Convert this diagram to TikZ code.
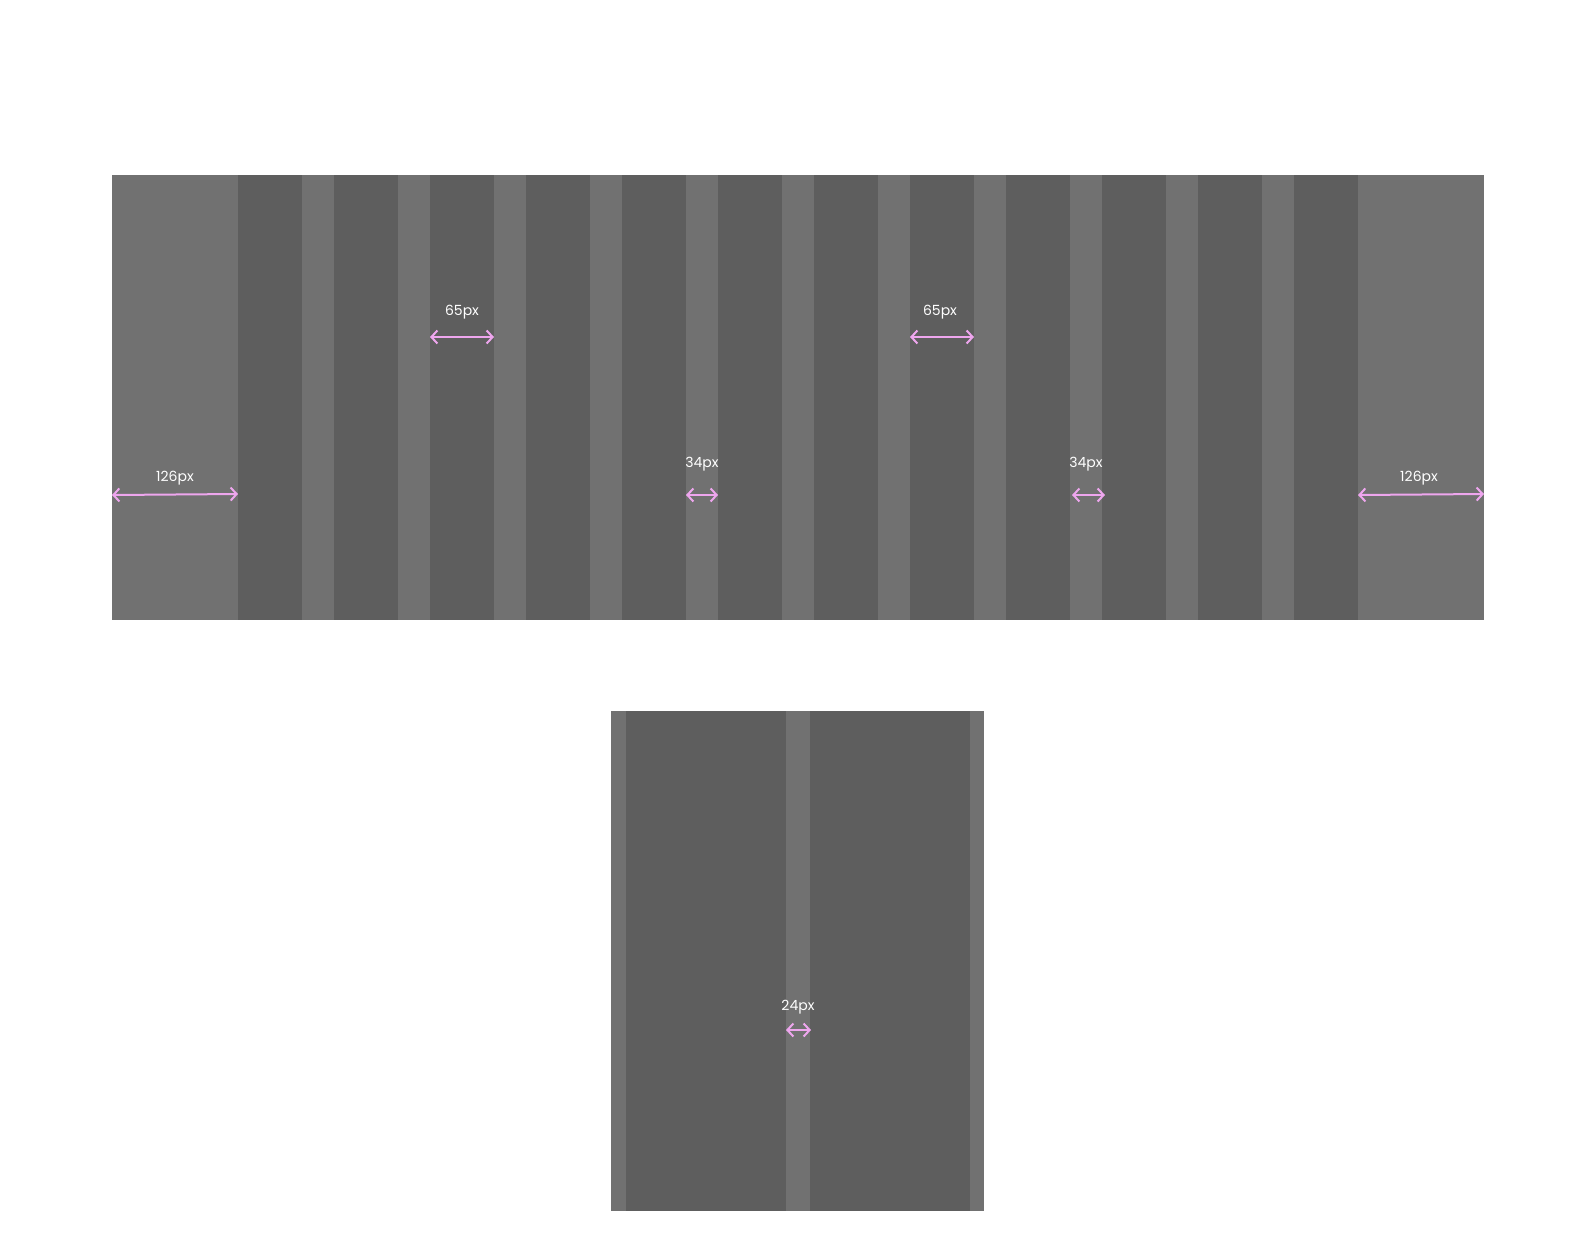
\documentclass[tikz,border=0pt]{standalone}
\usepackage{fontspec}
\setmainfont{Poppins}
\usepackage{tikz}
\usetikzlibrary{arrows.meta}

\definecolor{paneltone}{HTML}{717171}
\definecolor{columntone}{HTML}{5E5E5E}
\definecolor{dimpink}{HTML}{EEA6EE}

\tikzset{
	panel/.style={rectangle, fill=paneltone, draw=none, inner sep=0pt,
		outer sep=0pt, anchor=north west},
	column/.style={panel, fill=columntone},
	dimarrow/.style={draw=dimpink, line width=2pt,
		{Straight Barb[length=6pt, width=13pt]}-{Straight Barb[length=6pt, width=13pt]}},
	dimlabel/.style={text=white, inner sep=0pt,
		font=\fontsize{14}{17}\selectfont}
}

\begin{document}
\begin{tikzpicture}[x=1pt, y=-1pt]
	\def \colw {64pt}
	\def \wideh {445pt}
	\useasboundingbox (0,0) rectangle (1595,1237);

	% wide grid
	\node[panel, minimum width=1372pt, minimum height=\wideh] (wide) at (112,175) {};
	\node[column, minimum width=\colw, minimum height=\wideh] (first)    at (238,175) {};
	\node[column, minimum width=\colw, minimum height=\wideh] (second)   at (334,175) {};
	\node[column, minimum width=\colw, minimum height=\wideh] (third)    at (430,175) {};
	\node[column, minimum width=\colw, minimum height=\wideh] (fourth)   at (526,175) {};
	\node[column, minimum width=\colw, minimum height=\wideh] (fifth)    at (622,175) {};
	\node[column, minimum width=\colw, minimum height=\wideh] (sixth)    at (718,175) {};
	\node[column, minimum width=\colw, minimum height=\wideh] (seventh)  at (814,175) {};
	\node[column, minimum width=\colw, minimum height=\wideh] (eighth)   at (910,175) {};
	\node[column, minimum width=\colw, minimum height=\wideh] (ninth)    at (1006,175) {};
	\node[column, minimum width=\colw, minimum height=\wideh] (tenth)    at (1102,175) {};
	\node[column, minimum width=\colw, minimum height=\wideh] (eleventh) at (1198,175) {};
	\node[column, minimum width=\colw, minimum height=\wideh] (twelfth)  at (1294,175) {};

	% narrow grid
	\node[panel, minimum width=373pt, minimum height=500pt] (narrow) at (611,711) {};
	\node[column, minimum width=160pt, minimum height=500pt] (left)  at (626,711) {};
	\node[column, minimum width=160pt, minimum height=500pt] (right) at (810,711) {};

	% measures
	\coordinate (marginlA) at (112,495);
	\coordinate (marginlB) at (238,494);
	\coordinate (marginrA) at (1358,495);
	\coordinate (marginrB) at (1484,494);
	\coordinate (colA)     at (430,337);
	\coordinate (colB)     at (494,337);
	\coordinate (colC)     at (910,337);
	\coordinate (colD)     at (974,337);
	\coordinate (gutA)     at (686,495);
	\coordinate (gutB)     at (718,495);
	\coordinate (gutC)     at (1072,495);
	\coordinate (gutD)     at (1105,495);
	\coordinate (smallA)   at (786,1030);
	\coordinate (smallB)   at (811,1030);

	\draw[dimarrow] (marginlA) -- (marginlB);
	\draw[dimarrow] (marginrA) -- (marginrB);
	\draw[dimarrow] (colA) -- (colB);
	\draw[dimarrow] (colC) -- (colD);
	\draw[dimarrow] (gutA) -- (gutB);
	\draw[dimarrow] (gutC) -- (gutD);
	\draw[dimarrow] (smallA) -- (smallB);

	\node[dimlabel] (marginl) at (175,478)  {126px};
	\node[dimlabel] (marginr) at (1419,478) {126px};
	\node[dimlabel] (cola)    at (462,312)  {65px};
	\node[dimlabel] (colb)    at (940,312)  {65px};
	\node[dimlabel] (guta)    at (702,464)  {34px};
	\node[dimlabel] (gutb)    at (1086,464) {34px};
	\node[dimlabel] (small)   at (798,1007) {24px};
\end{tikzpicture}
\end{document}
